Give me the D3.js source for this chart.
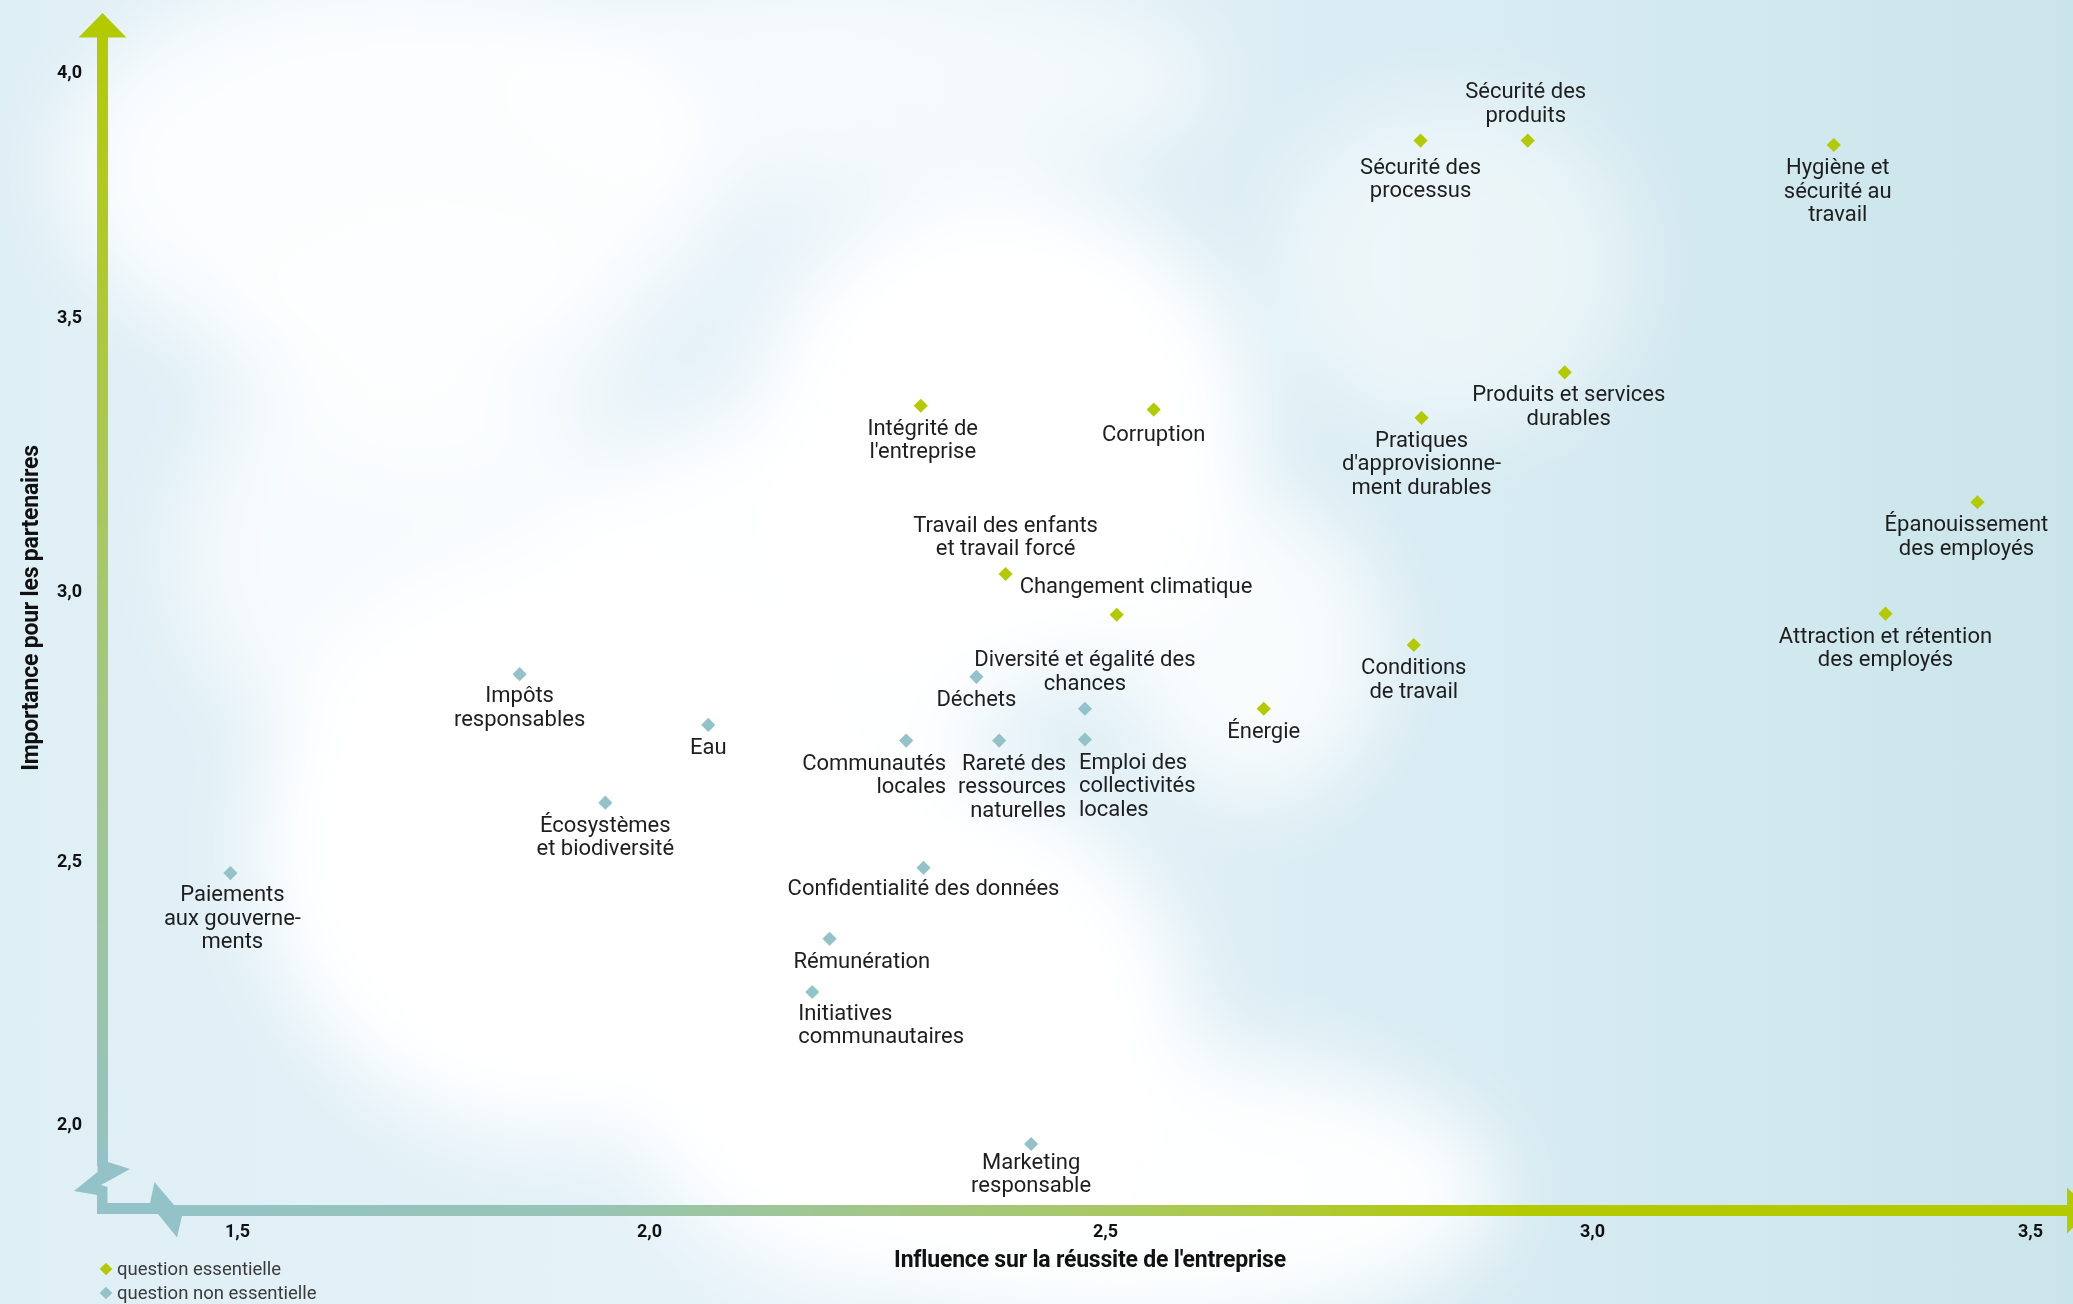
<!DOCTYPE html>
<html>
<head>
<meta charset="utf-8">
<script src="https://cdnjs.cloudflare.com/ajax/libs/d3/7.8.5/d3.min.js"></script>
<style>
	body { margin: 0; background: #dcedf5; }
	svg { display: block; }
	.topicLabel { font-family: Roboto, "Open Sans", sans-serif; font-size: 22px; fill: #1e1e1e; }
	.tick text { font-family: Roboto, "Open Sans", sans-serif; font-size: 18px; font-weight: bold; fill: #111; }
	.axisTitle { font-family: Roboto, "Open Sans", sans-serif; font-size: 23px; font-weight: bold; fill: #111; letter-spacing: -0.2px; }
	.legendText { font-family: Roboto, "Open Sans", sans-serif; font-size: 18.5px; fill: #3a3a3a; }
</style>
</head>
<body>
<div id="chart"></div>
<script>
//--------------------------------- Data ---------------------------------------

var xTickValues = [1.5, 2.0, 2.5, 3.0, 3.5];
var yTickValues = [2.0, 2.5, 3.0, 3.5, 4.0];

var legendLabels = ["question essentielle", "question non essentielle"];

//Essential topics ("|" marks a line break in the label)
var essentialTopics = [
	"Sécurité des|processus", "Sécurité des|produits", "Hygiène et|sécurité au|travail",
	"Intégrité de|l'entreprise", "Corruption", "Pratiques|d'approvisionne-|ment durables",
	"Produits et services|durables", "Épanouissement|des employés", "Travail des enfants|et travail forcé",
	"Changement climatique", "Attraction et rétention|des employés", "Conditions|de travail", "Énergie"
];
var essentialInfluence  = [2.824, 2.934, 3.276, 2.298, 2.550, 2.825, 2.972, 3.440, 2.391, 2.512, 3.335, 2.817, 2.663];
var essentialImportance = [3.860, 3.860, 3.851, 3.338, 3.331, 3.316, 3.399, 3.162, 3.031, 2.956, 2.958, 2.900, 2.782];

//Non essential topics
var otherTopics = [
	"Impôts|responsables", "Eau", "Écosystèmes|et biodiversité", "Paiements|aux gouverne-|ments",
	"Déchets", "Communautés|locales", "Rareté des|ressources|naturelles", "Diversité et égalité des|chances",
	"Emploi des|collectivités|locales", "Confidentialité des données", "Rémunération",
	"Initiatives|communautaires", "Marketing|responsable"
];
var otherInfluence  = [1.843, 2.065, 1.947, 1.492, 2.359, 2.282, 2.384, 2.478, 2.478, 2.301, 2.198, 2.179, 2.419];
var otherImportance = [2.846, 2.752, 2.608, 2.477, 2.841, 2.723, 2.723, 2.782, 2.725, 2.487, 2.352, 2.251, 1.962];

//--------------------------------- Set up svg ---------------------------------------

var width = 2073,
	height = 1304;

var svg = d3.select("#chart")
	.append("svg")
	.attr("width", width)
	.attr("height", height);

var defs = svg.append("defs");

//---------------------------------------- Scales ------------------------------------------------

//The tick labels of the original are not evenly spaced, so a polylinear scale is used
var x = d3.scaleLinear()
	.domain(xTickValues)
	.range([237, 649, 1105, 1592, 2030]);

var y = d3.scaleLinear()
	.domain(yTickValues)
	.range([1124, 861, 591, 317, 72]);

var axisX = 102.5,   //center of the vertical arrow
	axisY = 1210.5;  //center of the horizontal arrow

var green = "#b4ca00",
	blue = "#93c3c9";

//---------------------------------------- Background ------------------------------------------------

var bgGrad = defs.append("linearGradient")
	.attr("id", "bgGrad")
	.attr("x1", "0%").attr("y1", "0%")
	.attr("x2", "100%").attr("y2", "0%");
bgGrad.selectAll("stop")
	.data([["0%", "#dfeff6"], ["40%", "#e7f3f9"], ["70%", "#d8ecf3"], ["100%", "#cae5ea"]])
	.enter().append("stop")
	.attr("offset", function(d) { return d[0]; })
	.attr("stop-color", function(d) { return d[1]; });

var blur = defs.append("filter")
	.attr("id", "cloudBlur")
	.attr("filterUnits", "userSpaceOnUse")
	.attr("x", -600).attr("y", -600)
	.attr("width", width + 1200).attr("height", height + 1200);
blur.append("feGaussianBlur").attr("stdDeviation", 40);

svg.append("rect")
	.attr("width", width)
	.attr("height", height)
	.style("fill", "url(#bgGrad)");

var clouds = [
	{cx: 1005, cy: 436, rx: 250, ry: 245, o: 1},
	{cx: 555, cy: 846, rx: 300, ry: 290, o: 1},
	{cx: 900, cy: 1030, rx: 290, ry: 260, o: 1},
	{cx: 1150, cy: 1190, rx: 350, ry: 140, o: 0.95},
	{cx: 760, cy: 640, rx: 240, ry: 220, o: 0.95},
	{cx: 1255, cy: 650, rx: 130, ry: 150, o: 0.8},
	{cx: 390, cy: 170, rx: 330, ry: 200, o: 0.85},
	{cx: 400, cy: 555, rx: 220, ry: 200, o: 0.7},
	{cx: 420, cy: 350, rx: 200, ry: 130, o: 0.55},
	{cx: 860, cy: 80, rx: 350, ry: 110, o: 0.6},
	{cx: 1455, cy: 265, rx: 180, ry: 170, o: 0.5}
];
svg.append("g")
	.attr("filter", "url(#cloudBlur)")
	.selectAll("ellipse")
	.data(clouds)
	.enter().append("ellipse")
	.attr("cx", function(d) { return d.cx; })
	.attr("cy", function(d) { return d.cy; })
	.attr("rx", function(d) { return d.rx; })
	.attr("ry", function(d) { return d.ry; })
	.style("fill", "#ffffff")
	.style("opacity", function(d) { return d.o; });

//---------------------------------------- Axes arrows ------------------------------------------------

var yGrad = defs.append("linearGradient")
	.attr("id", "yAxisGrad")
	.attr("gradientUnits", "userSpaceOnUse")
	.attr("x1", 0).attr("y1", 10)
	.attr("x2", 0).attr("y2", 1220);
yGrad.selectAll("stop")
	.data([[0, green], [0.15, "#b1ca1e"], [0.55, "#a4c77d"], [1, blue]])
	.enter().append("stop")
	.attr("offset", function(d) { return d[0]; })
	.attr("stop-color", function(d) { return d[1]; });

var xGrad = defs.append("linearGradient")
	.attr("id", "xAxisGrad")
	.attr("gradientUnits", "userSpaceOnUse")
	.attr("x1", 90).attr("y1", 0)
	.attr("x2", width).attr("y2", 0);
xGrad.selectAll("stop")
	.data([[0, blue], [0.25, "#97c4b4"], [0.5, "#a8c86a"], [0.72, green], [1, green]])
	.enter().append("stop")
	.attr("offset", function(d) { return d[0]; })
	.attr("stop-color", function(d) { return d[1]; });

var arrows = svg.append("g").attr("class", "arrows");

//Vertical shaft and arrow head
arrows.append("rect")
	.attr("x", axisX - 5.5)
	.attr("y", 36)
	.attr("width", 11)
	.attr("height", 1130)
	.style("fill", "url(#yAxisGrad)");
arrows.append("path")
	.attr("d", "M" + (axisX - 24) + ",37.5L" + axisX + ",13L" + (axisX + 24) + ",37.5Z")
	.style("fill", green);

//Horizontal shaft and arrow head
arrows.append("rect")
	.attr("x", 170)
	.attr("y", axisY - 5.5)
	.attr("width", 1900)
	.attr("height", 11)
	.style("fill", "url(#xAxisGrad)");
arrows.append("path")
	.attr("d", "M2067," + (axisY - 23) + "L2091," + axisY + "L2067," + (axisY + 23) + "Z")
	.style("fill", green);

//Axis breaks at the origin
arrows.append("path")
	.attr("d", "M97.5,1150L108,1150L108,1162L130,1169L101,1185L107.5,1187L107.5,1214L97,1214L97,1195L74,1191L97.5,1172Z")
	.style("fill", blue);
arrows.append("path")
	.attr("d", "M97,1203L150,1203L154.5,1182L174,1205L180,1205L180,1216L182,1216L177,1237.5L158,1214L97,1214Z")
	.style("fill", blue);

//---------------------------------------- Tick labels ------------------------------------------------

var frLocale = d3.formatLocale({decimal: ",", thousands: " ", grouping: [3], currency: ["", " €"]});
var tickFormat = frLocale.format(".1f");

var xAxis = d3.axisBottom(x)
	.tickValues(xTickValues)
	.tickFormat(tickFormat)
	.tickSize(0)
	.tickPadding(0);

svg.append("g")
	.attr("class", "axis")
	.attr("transform", "translate(0,1224)")
	.call(xAxis)
	.call(function(g) { g.select(".domain").remove(); });

var yAxis = d3.axisLeft(y)
	.tickValues(yTickValues)
	.tickFormat(tickFormat)
	.tickSize(0)
	.tickPadding(0);

svg.append("g")
	.attr("class", "axis")
	.attr("transform", "translate(82,0)")
	.call(yAxis)
	.call(function(g) { g.select(".domain").remove(); });

//Axis titles
svg.append("text")
	.attr("class", "axisTitle")
	.attr("x", 1090)
	.attr("y", 1267)
	.style("text-anchor", "middle")
	.text("Influence sur la réussite de l'entreprise");

svg.append("text")
	.attr("class", "axisTitle")
	.attr("transform", "translate(38,608) rotate(-90)")
	.style("text-anchor", "middle")
	.text("Importance pour les partenaires");

//---------------------------------------- Points ------------------------------------------------

var points = [];
essentialTopics.forEach(function(t, i) {
	points.push({topic: t, influence: essentialInfluence[i], importance: essentialImportance[i], essential: true});
});
otherTopics.forEach(function(t, i) {
	points.push({topic: t, influence: otherInfluence[i], importance: otherImportance[i], essential: false});
});

//Where each label sits relative to its marker
var labelLayout = {
	"Sécurité des|processus": {dy: 33},
	"Sécurité des|produits": {above: true, dx: -2},
	"Hygiène et|sécurité au|travail": {dx: 4},
	"Intégrité de|l'entreprise": {dx: 2},
	"Corruption": {dy: 31},
	"Produits et services|durables": {dx: 4},
	"Épanouissement|des employés": {dx: -11},
	"Travail des enfants|et travail forcé": {above: true},
	"Changement climatique": {anchor: "start", dx: -97, dy: -22},
	"Diversité et égalité des|chances": {above: true},
	"Communautés|locales": {anchor: "end", dx: 40},
	"Rareté des|ressources|naturelles": {anchor: "end", dx: 67},
	"Emploi des|collectivités|locales": {anchor: "start", dx: -6},
	"Confidentialité des données": {dy: 27},
	"Rémunération": {anchor: "start", dx: -36},
	"Initiatives|communautaires": {anchor: "start", dx: -14, dy: 28},
	"Impôts|responsables": {dy: 28},
	"Paiements|aux gouverne-|ments": {dx: 2, dy: 28},
	"Marketing|responsable": {dy: 25}
};
var lineHeight = 23.5;

var diamond = d3.symbol().type(d3.symbolSquare).size(100);

var pointWrapper = svg.append("g").attr("class", "pointWrapper");

pointWrapper.selectAll(".topicMarker")
	.data(points)
	.enter().append("path")
	.attr("class", "topicMarker")
	.attr("transform", function(d) { return "translate(" + x(d.influence) + "," + y(d.importance) + ") rotate(45)"; })
	.attr("d", diamond)
	.style("fill", function(d) { return d.essential ? green : blue; });

pointWrapper.selectAll(".topicLabel")
	.data(points)
	.enter().append("text")
	.attr("class", "topicLabel")
	.each(function(d) {
		var lay = labelLayout[d.topic] || {};
		var lines = d.topic.split("|");
		var anchor = lay.anchor || "middle";
		var px = x(d.influence) + (lay.dx || 0);
		var firstY;
		if (lay.above) firstY = y(d.importance) - 19 - (lines.length - 1) * lineHeight;
		else firstY = y(d.importance) + (lay.dy !== undefined ? lay.dy : 29);
		var txt = d3.select(this).style("text-anchor", anchor);
		lines.forEach(function(l, i) {
			txt.append("tspan")
				.attr("x", px)
				.attr("y", firstY + i * lineHeight)
				.text(l);
		});
	});

//---------------------------------------- Legend ------------------------------------------------

var legend = svg.append("g")
	.attr("class", "legendWrapper")
	.attr("transform", "translate(106,1269)");

var legendItems = legend.selectAll(".legendItem")
	.data(legendLabels)
	.enter().append("g")
	.attr("class", "legendItem")
	.attr("transform", function(d, i) { return "translate(0," + (i * 24) + ")"; });

legendItems.append("path")
	.attr("transform", "rotate(45)")
	.attr("d", d3.symbol().type(d3.symbolSquare).size(80))
	.style("fill", function(d, i) { return i === 0 ? green : blue; });

legendItems.append("text")
	.attr("class", "legendText")
	.attr("x", 11)
	.attr("y", 6)
	.text(function(d) { return d; });
</script>
</body>
</html>
